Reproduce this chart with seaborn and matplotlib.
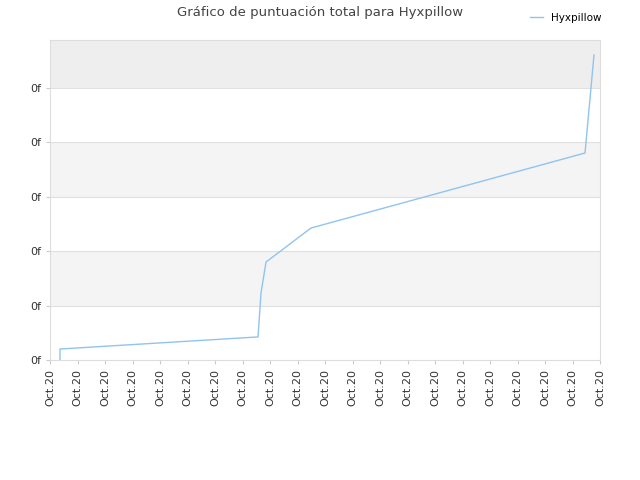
import matplotlib
matplotlib.use("Agg")
import matplotlib.pyplot as plt
import seaborn as sns
import pandas as pd

x_vals = [0.364, 0.364, 7.527, 7.564, 7.673, 7.855, 9.491, 19.455, 19.782]
y_vals = [0.0, 0.202, 0.423, 0.423, 1.232, 1.801, 2.426, 3.805, 5.607]
tick_labels = ["Oct.20"] * 21
ytick_labels = ["0f"] * 6

df = pd.DataFrame({"x": x_vals, "y": y_vals, "s": "Hyxpillow"})

fig = plt.figure(figsize=(6.4, 4.8), dpi=100)
ax = fig.add_axes([50/640, 120/480, 550/640, 320/480])
ax.set_xlim(0, 20)
ax.set_ylim(0, 320/54.4)
bands = ["white", "#f4f4f4", "white", "#f4f4f4", "white", "#eeeeee"]
for i, c in enumerate(bands):
    ax.axhspan(i, i + 1, color=c, zorder=0, lw=0)
for i in range(1, 6):
    ax.axhline(i, color="#e0e0e0", lw=0.8, zorder=1)
sns.lineplot(data=df, x="x", y="y", hue="s", palette=["#90c4f0"], ax=ax, lw=1,
             sort=False, estimator=None, zorder=3)
ax.set_xticks(range(21))
ax.set_xticklabels(tick_labels, rotation=90, fontsize=8, color="#333333")
ax.set_yticks(range(6))
ax.set_yticklabels(ytick_labels, fontsize=8, color="#333333")
ax.set_xlabel(""); ax.set_ylabel("")
for s in ax.spines.values():
    s.set_color("#dddddd")
ax.tick_params(length=3, color="#cccccc")
ax.legend(loc="upper right", bbox_to_anchor=(1.02, 1.115), frameon=False, fontsize=7.5,
          handlelength=1.2, handletextpad=0.8)
fig.suptitle("Gráfico de puntuación total para Hyxpillow", y=0.988, fontsize=9.5, color="#444444")
fig.savefig("out.png", dpi=100)
